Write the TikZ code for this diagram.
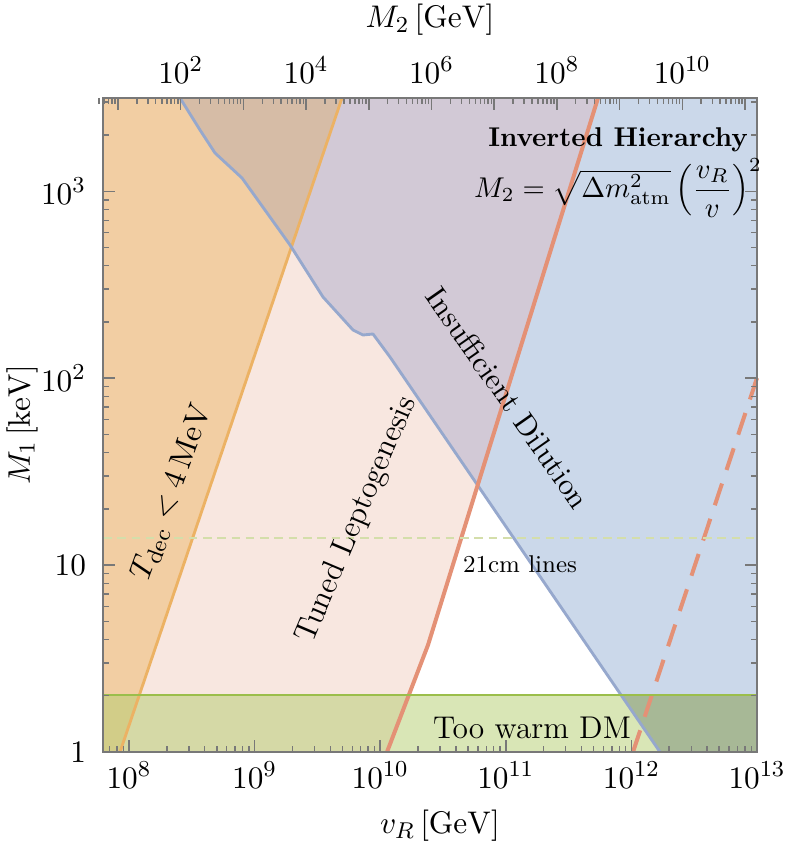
\documentclass[tikz,border=0pt]{standalone}
\usepackage{amsmath}
\begin{document}
\begin{tikzpicture}[x=0.35pt,y=-0.35pt]
\definecolor{cOr}{RGB}{242,206,163}
\definecolor{cOrL}{RGB}{236,178,100}
\definecolor{cPk}{RGB}{248,231,224}
\definecolor{cRd}{RGB}{228,145,118}
\definecolor{cBl}{RGB}{203,216,234}
\definecolor{cBlL}{RGB}{150,168,205}
\definecolor{cBr}{RGB}{214,188,166}
\definecolor{cPu}{RGB}{210,201,214}
\definecolor{cGr}{RGB}{180,205,110}
\definecolor{cGrL}{RGB}{155,190,75}
\definecolor{cDs}{RGB}{212,222,170}
\definecolor{cAx}{RGB}{120,120,120}
\tikzset{tick/.style={draw=cAx,line width=0.5pt},
 lab/.style={font=\fontsize{11}{13}\selectfont}}
\useasboundingbox (0,0) rectangle (789,852);
\def\Opoly{(103,752) -- (120,752) -- (342,98) -- (103,98) -- cycle}
\def\Ppoly{(120,752) -- (342,98) -- (598,98) -- (428,645) -- (405,705) -- (387,752) -- cycle}
\def\Bpoly{(180,98) -- (200,130) -- (215,153) -- (242,178) -- (290,245) -- (323,297) -- (353,330) -- (363,335) -- (373,334) -- (390,357) -- (660,752) -- (757,752) -- (757,98) -- cycle}
\fill[cOr] \Opoly;
\fill[cPk] \Ppoly;
\fill[cBl] \Bpoly;
\begin{scope}
\clip \Bpoly;
\fill[cBr] \Opoly;
\fill[cPu] \Ppoly;
\end{scope}
\fill[cGr,opacity=0.5] (103,695) rectangle (757,752);
\begin{scope}
\clip \Bpoly;
\fill[black,opacity=0.12] (103,695) rectangle (757,752);
\end{scope}
% boundary lines
\draw[cOrL,line width=1pt] (120,752) -- (342,98);
\draw[cBlL,line width=1pt,line join=round] (180,98) -- (200,130) -- (215,153) -- (242,178) -- (290,245) -- (323,297) -- (353,330) -- (363,335) -- (373,334) -- (390,357) -- (660,752);
\draw[cRd,line width=1.4pt] (387,752) -- (405,705) -- (428,645) -- (598,98);
\draw[cRd,line width=1.4pt,dash pattern=on 8pt off 5pt] (633,752) -- (757,378);
\draw[cGrL,line width=1pt] (103,695) -- (757,695);
\draw[cDs,line width=0.8pt,dash pattern=on 3pt off 2pt] (103,538) -- (757,538);
% frame and ticks
\draw[cAx,line width=0.6pt] (103,98) rectangle (757,752);
\foreach \k in {0,...,5}{
  \pgfmathsetmacro\xx{129+125.6*\k}
  \draw[tick] (\xx,752) -- (\xx,740);
  \foreach \m in {2,...,9}{
    \pgfmathsetmacro\xm{\xx+125.6*log10(\m)}
    \ifdim\xm pt<757pt \draw[tick] (\xm,752) -- (\xm,746); \fi}
}
\foreach \m in {7,8,9}{\pgfmathsetmacro\xm{129+125.6*log10(\m/10)}\draw[tick] (\xm,752) -- (\xm,746);}
\foreach \k in {0,...,3}{
  \pgfmathsetmacro\yy{752-186.9*\k}
  \draw[tick] (103,\yy) -- (115,\yy);
  \draw[tick] (757,\yy) -- (745,\yy);
  \foreach \m in {2,...,9}{
    \pgfmathsetmacro\ym{\yy-186.9*log10(\m)}
    \ifdim\ym pt>98pt \draw[tick] (103,\ym) -- (109,\ym); \draw[tick] (757,\ym) -- (751,\ym);\fi}
}
\foreach \n in {1,...,11}{
  \pgfmathsetmacro\xx{118+62.7*(\n-1)}
  \draw[tick] (\xx,98) -- (\xx,110);
  \foreach \m in {2,...,9}{
    \pgfmathsetmacro\xm{\xx+62.7*log10(\m)}
    \ifdim\xm pt<757pt \draw[tick] (\xm,98) -- (\xm,104); \fi}
}
\foreach \m in {5,6,7,8,9}{\pgfmathsetmacro\xm{118+62.7*log10(\m/10)}\draw[tick] (\xm,98) -- (\xm,104);}
% tick labels
\foreach \k/\e in {0/8,1/9,2/10,3/11,4/12,5/13}
  \node[lab] (bx\e) at (129+125.6*\k,775) {$10^{\e}$};
\node[lab,anchor=east] (ly0) at (96,752) {$1$};
\node[lab,anchor=east] (ly1) at (96,565) {$10$};
\node[lab,anchor=east] (ly2) at (96,378) {$10^{2}$};
\node[lab,anchor=east] (ly3) at (96,191) {$10^{3}$};
\foreach \n in {2,4,6,8,10}
  \node[lab] (tx\n) at (118+62.7*\n-62.7,70) {$10^{\n}$};
\node[lab] (xl) at (440,826) {$v_R\,[\mathrm{GeV}]$};
\node[lab,rotate=90] (yl) at (22,425) {$M_1\,[\mathrm{keV}]$};
\node[lab] (tl) at (430,20) {$M_2\,[\mathrm{GeV}]$};
% region labels
\node[font=\fontsize{9.5}{11}\selectfont\bfseries] (ih) at (618,140) {Inverted Hierarchy};
\node[font=\fontsize{10}{12}\selectfont] (fm) at (618,188) {$M_2=\sqrt{\Delta m^2_{\mathrm{atm}}}\left(\dfrac{v_R}{v}\right)^{2}$};
\node[font=\fontsize{10.5}{12}\selectfont,rotate=-55] (id) at (508,398) {Insufficient Dilution};
\node[font=\fontsize{11}{12}\selectfont,rotate=67] (tlg) at (357,520) {Tuned Leptogenesis};
\node[font=\fontsize{11}{12}\selectfont,rotate=70] (td) at (172,492) {$T_{\mathrm{dec}}<4\,\mathrm{MeV}$};
\node[font=\fontsize{8.5}{10}\selectfont] (cm) at (520,564) {21cm lines};
\node[font=\fontsize{11}{12}\selectfont] (tw) at (532,728) {Too warm DM};
\end{tikzpicture}
\end{document}
